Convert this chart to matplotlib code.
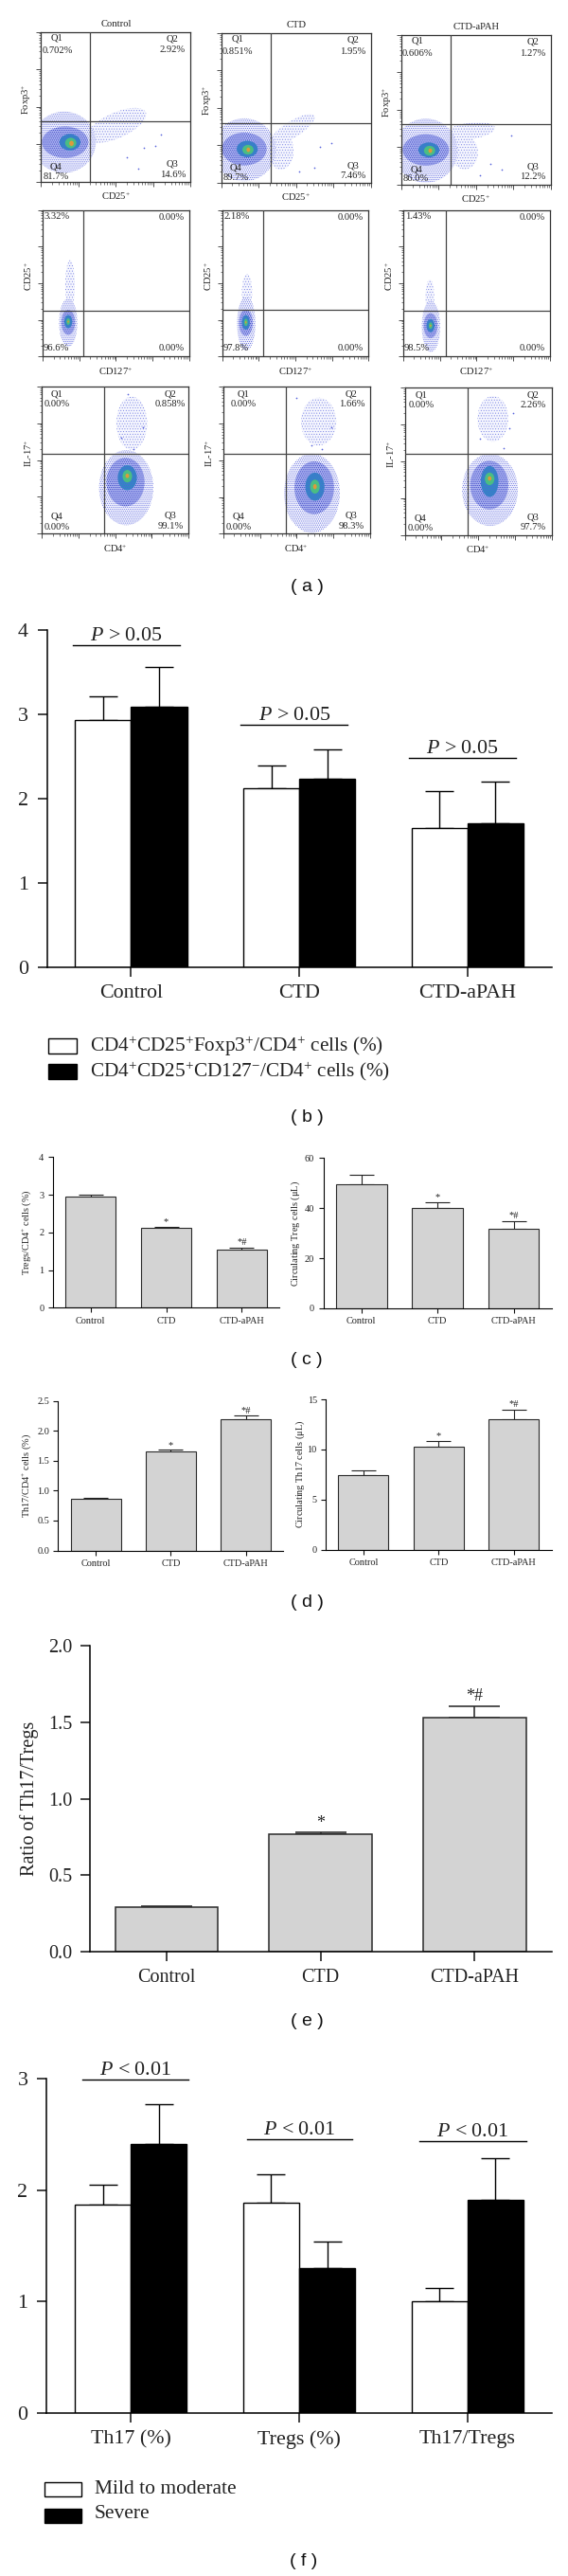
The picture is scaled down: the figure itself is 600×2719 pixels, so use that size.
import numpy as np
import matplotlib
matplotlib.use("Agg")
import matplotlib.pyplot as plt
from matplotlib.patches import Ellipse, Rectangle

plt.rcParams.update({
    "font.family": ["Liberation Serif", "DejaVu Serif"],
    "mathtext.fontset": "custom",
    "mathtext.rm": "Liberation Serif",
    "mathtext.it": "Liberation Serif:italic",
    "mathtext.bf": "Liberation Serif:bold",
    "mathtext.default": "rm",
    "hatch.linewidth": 0.4,
})

W, H = 600, 2719
DPI = 100
fig = plt.figure(figsize=(W / DPI, H / DPI), dpi=DPI, facecolor="white")

# ---------- data: panel (b) ----------
groups = ["Control", "CTD", "CTD-aPAH"]
b_foxp3 = [2.93, 2.12, 1.65]
b_foxp3_top = [3.22, 2.40, 2.09]
b_cd127 = [3.09, 2.24, 1.71]
b_cd127_top = [3.57, 2.59, 2.20]
# ---------- panel (c) ----------
c_tregs = [2.95, 2.11, 1.54]
c_tregs_top = [3.00, 2.14, 1.59]
c_circ = [49.5, 40.0, 31.7]
c_circ_top = [53.2, 42.2, 34.9]
# ---------- panel (d) ----------
d_th17 = [0.865, 1.65, 2.19]
d_th17_top = [0.885, 1.68, 2.25]
d_circ = [7.4, 10.3, 13.0]
d_circ_top = [7.9, 10.85, 14.0]
# ---------- panel (e) ----------
e_ratio = [0.29, 0.77, 1.53]
e_ratio_top = [0.295, 0.78, 1.605]
# ---------- panel (f) ----------
f_cats = ["Th17 (%)", "Tregs (%)", "Th17/Tregs"]
f_mild = [1.87, 1.89, 1.00]
f_mild_top = [2.05, 2.14, 1.12]
f_severe = [2.41, 1.30, 1.91]
f_severe_top = [2.77, 1.54, 2.29]
stars = ["", "*", "*#"]

# ---------- panel (a): quadrant percentages ----------
flow_titles = ["Control", "CTD", "CTD-aPAH"]
row1_q1 = ["0.702%", "0.851%", "0.606%"]
row1_q2 = ["2.92%", "1.95%", "1.27%"]
row1_q3 = ["14.6%", "7.46%", "12.2%"]
row1_q4 = ["81.7%", "89.7%", "86.0%"]
row2_ul = ["3.32%", "2.18%", "1.43%"]
row2_ll = ["96.6%", "97.8%", "98.5%"]
row3_q2 = ["0.858%", "1.66%", "2.26%"]
row3_q3 = ["99.1%", "98.3%", "97.7%"]

# quadrant gates (log decades)
row1_gate = [(1.31, 1.60), (1.32, 1.60), (1.32, 1.60)]
row2_gate = [(1.11, 1.24), (1.11, 1.27), (1.16, 1.24)]
row3_gate = [(1.71, 2.18), (1.70, 2.18), (1.70, 2.19)]

# density regions: (cx, cy, rx, ry, angle), log decades
# dense population: outer, blue, teal, green, orange
row1_main = [
    [(0.62, 1.05, 0.85, 0.82, 0), (0.65, 1.05, 0.62, 0.42, 0), (0.78, 1.05, 0.28, 0.22, 0), (0.80, 1.03, 0.15, 0.14, 0), (0.82, 1.02, 0.06, 0.07, 0)],
    [(0.62, 0.88, 0.85, 0.84, 0), (0.62, 0.90, 0.60, 0.44, 0), (0.70, 0.90, 0.28, 0.22, 0), (0.72, 0.88, 0.15, 0.13, 0), (0.73, 0.88, 0.05, 0.06, 0)],
    [(0.66, 0.90, 0.85, 0.86, 0), (0.66, 0.92, 0.62, 0.42, 0), (0.74, 0.92, 0.28, 0.20, 0), (0.76, 0.90, 0.15, 0.13, 0), (0.78, 0.90, 0.05, 0.06, 0)],
]
row1_side = [
    [(2.02, 1.50, 0.86, 0.34, 24), (1.95, 1.45, 0.55, 0.18, 22)],
    [(1.90, 1.42, 0.70, 0.22, 32), (1.60, 0.85, 0.34, 0.50, 0)],
    [(1.82, 1.42, 0.70, 0.22, 8), (1.70, 0.85, 0.36, 0.45, 0)],
]
row2_main = [
    [(0.70, 0.92, 0.25, 0.66, 0), (0.70, 0.93, 0.19, 0.34, 0), (0.70, 0.95, 0.11, 0.18, 0), (0.70, 0.95, 0.05, 0.09, 0), (0.70, 0.95, 0.02, 0.03, 0)],
    [(0.66, 0.90, 0.25, 0.74, 0), (0.65, 0.92, 0.19, 0.36, 0), (0.65, 0.93, 0.11, 0.20, 0), (0.65, 0.93, 0.05, 0.10, 0), (0.65, 0.93, 0.02, 0.03, 0)],
    [(0.76, 0.82, 0.25, 0.70, 0), (0.75, 0.84, 0.19, 0.34, 0), (0.75, 0.84, 0.11, 0.18, 0), (0.75, 0.84, 0.05, 0.09, 0), (0.75, 0.84, 0.02, 0.03, 0)],
]
row2_side = [
    [(0.75, 1.95, 0.13, 0.68, 0)],
    [(0.68, 1.75, 0.14, 0.50, 0)],
    [(0.73, 1.62, 0.12, 0.48, 0)],
]
row3_main = [
    [(2.30, 1.25, 0.74, 1.02, 0), (2.28, 1.40, 0.52, 0.66, 0), (2.33, 1.52, 0.26, 0.34, 0), (2.33, 1.56, 0.13, 0.17, 0), (2.33, 1.57, 0.05, 0.06, 0)],
    [(2.42, 1.10, 0.76, 1.08, 0), (2.48, 1.25, 0.54, 0.72, 0), (2.50, 1.28, 0.26, 0.38, 0), (2.50, 1.28, 0.13, 0.19, 0), (2.50, 1.28, 0.05, 0.07, 0)],
    [(2.32, 1.22, 0.76, 0.98, 0), (2.30, 1.35, 0.52, 0.66, 0), (2.31, 1.45, 0.24, 0.42, 0), (2.31, 1.52, 0.13, 0.17, 0), (2.31, 1.53, 0.05, 0.06, 0)],
]
row3_side = [
    [(2.45, 3.00, 0.42, 0.72, 0)],
    [(2.60, 3.05, 0.48, 0.65, 0)],
    [(2.40, 3.15, 0.42, 0.62, 0)],
]

# stray events (log decades)
row1_xs = [[2.75, 2.60, 3.05, 3.20, 2.30], [2.65, 2.95, 2.50, 2.10], [2.40, 2.70, 2.95, 2.10]]
row1_ys = [[0.90, 0.35, 0.95, 1.25, 0.65], [0.95, 1.05, 0.40, 0.30], [0.55, 0.40, 1.30, 0.25]]
row3_xs = [[2.35, 2.15, 2.75, 2.50], [2.00, 2.95, 2.70, 2.40], [2.05, 2.85, 2.70, 2.95]]
row3_ys = [[3.80, 2.60, 2.90, 2.30], [3.70, 2.90, 2.30, 2.40], [2.60, 2.90, 2.35, 3.30]]


def new_ax(x0, x1, ytop, ybot):
    """axes from pixel box (y measured downward from the top of the image)"""
    return fig.add_axes([x0 / W, 1 - ybot / H, (x1 - x0) / W, (ybot - ytop) / H])


def T(x, y, s, **kw):
    kw.setdefault("ha", "center")
    kw.setdefault("va", "center")
    return fig.text(x / W, 1 - y / H, s, **kw)


def blob(ax, e, level):
    cx, cy, rx, ry, ang = e
    styles = [
        dict(facecolor="#f1f2fd", edgecolor="#5560dc", hatch="........", lw=0),
        dict(facecolor="#aab1ef", edgecolor="#1d29bb", hatch="........", lw=0),
        dict(facecolor="#3f78cf", edgecolor="#1f9fb0", hatch="........", lw=0),
        dict(facecolor="#4bbd83", lw=0),
        dict(facecolor="#dd9a3c", lw=0),
    ]
    ax.add_patch(Ellipse((cx, cy), 2 * rx, 2 * ry, angle=ang, **styles[level]))


def sparse(ax, e):
    cx, cy, rx, ry, ang = e
    ax.add_patch(Ellipse((cx, cy), 2 * rx, 2 * ry, angle=ang, facecolor="#f6f7fe",
                         edgecolor="#7a83e4", hatch="......", lw=0))


def flow(box, gate, main, side, xs=None, ys=None):
    ax = new_ax(*box)
    ax.set_xlim(0, 4)
    ax.set_ylim(0, 4)
    for s in ax.spines.values():
        s.set_linewidth(0.9)
        s.set_color("#333333")
    major = [0, 1, 2, 3, 4]
    minor = [d + np.log10(k) for d in range(4) for k in range(2, 10)]
    for set_t in (ax.set_xticks, ax.set_yticks):
        set_t(major)
        set_t(minor, minor=True)
    ax.tick_params(which="major", length=3.4, width=0.6, color="#333333", labelbottom=False, labelleft=False)
    ax.tick_params(which="minor", length=1.8, width=0.45, color="#333333")
    for e in side:
        sparse(ax, e)
    for lev, e in enumerate(main):
        blob(ax, e, lev)
    if xs:
        ax.scatter(xs, ys, s=1.5, color="#5a65dd", lw=0)
    ax.axvline(gate[0], color="#444444", lw=0.9, zorder=5)
    ax.axhline(gate[1], color="#444444", lw=0.9, zorder=5)
    return ax


FS = 7.6
row_boxes = [
    [(43.1, 201.2, 33.6, 191.6), (233.5, 391.5, 34.9, 192.8), (423.8, 581.5, 36.9, 194.5)],
    [(45.0, 199.6, 221.5, 376.2), (234.6, 389.2, 221.5, 376.2), (425.8, 580.8, 221.5, 376.2)],
    [(44.2, 199.2, 407.8, 563.3), (235.8, 390.8, 408.2, 563.3), (427.7, 582.7, 409.0, 564.5)],
]
row_x = ["CD25$^{+}$", "CD127$^{+}$", "CD4$^{+}$"]
row_y = ["Foxp3$^{+}$", "CD25$^{+}$", "IL-17$^{+}$"]


def ptxt(box, fx, fy, s):
    x0, x1, y0, y1 = box
    T(x0 + fx * (x1 - x0), y0 + fy * (y1 - y0), s, fontsize=FS, color="#222222", zorder=10)


for c in range(3):
    b1, b2, b3 = row_boxes[0][c], row_boxes[1][c], row_boxes[2][c]
    flow(b1, row1_gate[c], row1_main[c], row1_side[c], row1_xs[c], row1_ys[c])
    flow(b2, row2_gate[c], row2_main[c], row2_side[c])
    flow(b3, row3_gate[c], row3_main[c], row3_side[c], row3_xs[c], row3_ys[c])

    T((b1[0] + b1[1]) / 2 + 0.5, b1[2] - 8.5, flow_titles[c], fontsize=FS, color="#222222")
    ptxt(b1, .11, .04, "Q1"); ptxt(b1, .11, .125, row1_q1[c])
    ptxt(b1, .88, .045, "Q2"); ptxt(b1, .88, .122, row1_q2[c])
    ptxt(b1, .10, .900, "Q4"); ptxt(b1, .10, .965, row1_q4[c])
    ptxt(b1, .88, .885, "Q3"); ptxt(b1, .88, .952, row1_q3[c])

    ptxt(b2, .10, .048, row2_ul[c]); ptxt(b2, .88, .053, "0.00%")
    ptxt(b2, .095, .945, row2_ll[c]); ptxt(b2, .88, .945, "0.00%")

    qx = [.105, .14, .11][c]
    ptxt(b3, qx, .05, "Q1"); ptxt(b3, qx, .118, "0.00%")
    ptxt(b3, .875, .052, "Q2"); ptxt(b3, .875, .118, row3_q2[c])
    ptxt(b3, .105, .885, "Q4"); ptxt(b3, .105, .955, "0.00%")
    ptxt(b3, .875, .878, "Q3"); ptxt(b3, .875, .948, row3_q3[c])

    for r, box in enumerate((b1, b2, b3)):
        T((box[0] + box[1]) / 2, box[3] + 15.5, row_x[r], fontsize=FS, color="#222222")
        T(box[0] - 14.5, box[2] + 0.45 * (box[3] - box[2]), row_y[r], fontsize=FS,
          rotation=90, color="#222222")


def bar_axes(box, ymax, yticks, ylabels, cats, fs, ticklen, lw, pad):
    ax = new_ax(*box)
    ax.set_xlim(-0.5, 2.5)
    ax.set_ylim(0, ymax)
    ax.patch.set_alpha(0)
    ax.spines["top"].set_visible(False)
    ax.spines["right"].set_visible(False)
    ax.spines["left"].set_linewidth(lw)
    ax.spines["bottom"].set_linewidth(lw)
    ax.set_xticks(range(3))
    ax.set_xticklabels(cats)
    ax.set_yticks(yticks)
    ax.set_yticklabels(ylabels)
    ax.tick_params(axis="both", length=ticklen, width=lw, labelsize=fs, pad=pad, color="#111111", labelcolor="#222222")
    return ax


def grey_panel(box, ymax, yticks, ylabels, vals, tops, ylabel, ylab_x, fs, ticklen, lw, pad, cap, star_fs, star_off):
    ax = bar_axes(box, ymax, yticks, ylabels, groups, fs, ticklen, lw, pad)
    x = np.arange(3)
    ax.bar(x, vals, width=0.667, color="#d3d3d3", edgecolor="#2a2a2a", linewidth=lw, zorder=2)
    err = np.array(tops) - np.array(vals)
    ax.errorbar(x, vals, yerr=[np.zeros(3), err], fmt="none", ecolor="#222222",
                elinewidth=lw, capsize=cap, capthick=lw, zorder=1)
    for i in range(3):
        if stars[i]:
            ax.annotate(stars[i], (x[i], tops[i]), xytext=(0, star_off), textcoords="offset points",
                        ha="center", va="bottom", fontsize=star_fs, color="#222222")
    cy = H * (1 - (ax.get_position().y0 + ax.get_position().y1) / 2)
    T(ylab_x, cy, ylabel, rotation=90, fontsize=fs, color="#222222")
    return ax


def pair_panel(box, ymax, yticks, cats, a, atop, b, btop, plines):
    ax = bar_axes(box, ymax, yticks, [str(t) for t in yticks], cats, 15.8, 7.2, 1.1, 6)
    x = np.arange(3)
    w = 0.333
    ax.errorbar(x - w / 2, a, yerr=[np.zeros(3), np.array(atop) - np.array(a)], fmt="none",
                ecolor="black", elinewidth=1.0, capsize=10.8, capthick=1.0, zorder=1)
    ax.errorbar(x + w / 2, b, yerr=[np.zeros(3), np.array(btop) - np.array(b)], fmt="none",
                ecolor="black", elinewidth=1.0, capsize=10.8, capthick=1.0, zorder=1)
    ax.bar(x - w / 2, a, width=w, color="white", edgecolor="black", linewidth=1.0, zorder=2)
    ax.bar(x + w / 2, b, width=w, color="black", edgecolor="black", linewidth=1.0, zorder=2)
    for (lo, hi, yv, txt) in plines:
        ax.plot([lo, hi], [yv, yv], color="black", lw=1.0, clip_on=False, zorder=3)
        ax.text((lo + hi) / 2, yv, txt, ha="center", va="bottom", fontsize=15.8,
                color="#222222", clip_on=False)
    ax.tick_params(axis="y", pad=7)
    return ax


# (b)
pair_panel((49.6, 582.7, 665.3, 1020.8), 4, [0, 1, 2, 3, 4], groups,
           b_foxp3, b_foxp3_top, b_cd127, b_cd127_top,
           [(-0.347, 0.288, 3.82, r"$\mathit{P}$ > 0.05"),
            (0.653, 1.288, 2.875, r"$\mathit{P}$ > 0.05"),
            (1.654, 2.286, 2.49, r"$\mathit{P}$ > 0.05")])

# (c)
grey_panel((55.8, 295.4, 1221.3, 1380.3), 4, [0, 1, 2, 3, 4], ["0", "1", "2", "3", "4"],
           c_tregs, c_tregs_top, "Tregs/CD4$^{+}$ cells (%)", 28, 7.4, 3.3, 0.8, 3.5, 9.4, 7.5, 0.5)
grey_panel((341.5, 582.7, 1222, 1381), 60, [0, 20, 40, 60], ["0", "20", "40", "60"],
           c_circ, c_circ_top, "Circulating Treg cells ($\\mu$L)", 312, 7.4, 3.3, 0.8, 3.5, 9.4, 7.5, 0.5)
# (d)
grey_panel((61.5, 299.2, 1478.6, 1636.6), 2.5, [0, 0.5, 1, 1.5, 2, 2.5],
           ["0.0", "0.5", "1.0", "1.5", "2.0", "2.5"],
           d_th17, d_th17_top, "Th17/CD4$^{+}$ cells (%)", 28, 7.4, 3.3, 0.8, 3.5, 9.4, 7.5, 0.5)
grey_panel((344.2, 582.7, 1477.2, 1635.5), 15, [0, 5, 10, 15], ["0", "5", "10", "15"],
           d_circ, d_circ_top, "Circulating Th17 cells ($\\mu$L)", 317, 7.4, 3.3, 0.8, 3.5, 9.4, 7.5, 0.5)
# (e)
grey_panel((94.6, 582.7, 1737, 2060), 2.0, [0, 0.5, 1, 1.5, 2],
           ["0.0", "0.5", "1.0", "1.5", "2.0"],
           e_ratio, e_ratio_top, "Ratio of Th17/Tregs", 31, 14.5, 7.2, 1.1, 6, 19.6, 13, 1)

# (f)
pair_panel((49.2, 582.7, 2194, 2547), 3, [0, 1, 2, 3], f_cats,
           f_mild, f_mild_top, f_severe, f_severe_top,
           [(-0.29, 0.345, 2.99, r"$\mathit{P}$ < 0.01"),
            (0.69, 1.315, 2.46, r"$\mathit{P}$ < 0.01"),
            (1.716, 2.348, 2.436, r"$\mathit{P}$ < 0.01")])

# legends drawn on the figure
def swatch(x0, x1, y0, y1, col):
    fig.add_artist(Rectangle((x0 / W, 1 - y1 / H), (x1 - x0) / W, (y1 - y0) / H,
                             transform=fig.transFigure, facecolor=col, edgecolor="black", lw=1.0))


swatch(50.5, 81, 1096, 1112, "white")
swatch(50.5, 81, 1123, 1139, "black")
T(94.6, 1104, "CD4$^{+}$CD25$^{+}$Foxp3$^{+}$/CD4$^{+}$ cells (%)", ha="left", fontsize=15.3, color="#222222")
T(94.6, 1131, "CD4$^{+}$CD25$^{+}$CD127$^{-}$/CD4$^{+}$ cells (%)", ha="left", fontsize=15.3, color="#222222")
swatch(47, 86, 2620, 2635, "white")
swatch(47, 86, 2648, 2663, "black")
T(99.6, 2627, "Mild to moderate", ha="left", fontsize=15.5, color="#222222")
T(99.6, 2654, "Severe", ha="left", fontsize=15.5, color="#222222")

# panel letters
for x, y, s in [(324, 619, "( a )"), (324, 1180, "( b )"), (324, 1435.5, "( c )"),
                (324, 1691.5, "( d )"), (324, 2133, "( e )"), (321, 2703, "( f )")]:
    T(x, y, s, fontsize=14, family="Liberation Sans", color="#111111")

fig.savefig("out.png", dpi=DPI, facecolor="white")
